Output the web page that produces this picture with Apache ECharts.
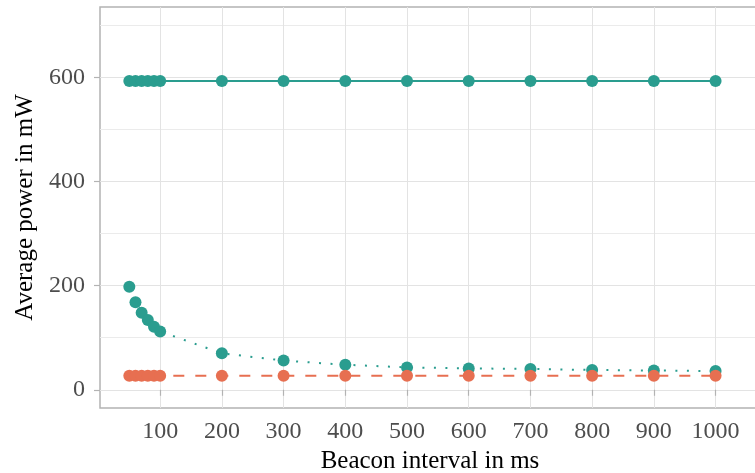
<!DOCTYPE html>
<html>
<head>
<meta charset="utf-8">
<script src="https://cdn.jsdelivr.net/npm/echarts@6/dist/echarts.min.js"></script>
<style>html,body{margin:0;padding:0;background:#fff;}#c{width:755px;height:473px;}</style>
</head>
<body>
<div id="c"></div>
<script>
const beaconIntervals = [50, 60, 70, 80, 90, 100, 200, 300, 400, 500, 600, 700, 800, 900, 1000];
const powerSolid = [593, 593, 593, 593, 593, 593, 593, 593, 593, 593, 593, 593, 593, 593, 593];
const powerDotted = [198, 168, 148, 134, 121, 112, 70, 56, 48, 43, 41, 40, 38, 37, 36];
const powerDashed = [27, 27, 27, 27, 27, 27, 27, 27, 27, 27, 27, 27, 27, 27, 27];
const xTicks = [100, 200, 300, 400, 500, 600, 700, 800, 900, 1000];
const yTicks = [0, 200, 400, 600];
const yMinorTicks = [100, 300, 500, 700];

const TEAL = '#2a9d8f', ORANGE = '#e76f51';
const FONT = '"Liberation Serif", "DejaVu Serif", serif';
const pairs = (ys) => beaconIntervals.map((x, i) => [x, ys[i]]);

const chart = echarts.init(document.getElementById('c'), null, {renderer: 'canvas'});
chart.setOption({
  backgroundColor: '#fff',
  animation: false,
  grid: {left: 100, right: -5, top: 7, bottom: 65, outerBoundsMode: 'none', containLabel: false,
         show: true, borderColor: '#b3b3b3', borderWidth: 1.5, backgroundColor: '#fff'},
  xAxis: {
    type: 'value', min: 2.5, max: 1072,
    name: 'Beacon interval in ms', nameLocation: 'middle', nameGap: 36,
    nameTextStyle: {fontFamily: FONT, fontSize: 25, color: '#000'},
    axisLine: {show: false},
    axisTick: {show: true, length: 6, customValues: xTicks, lineStyle: {color: '#b3b3b3', width: 1.2}},
    axisLabel: {customValues: xTicks, formatter: (v) => String(v), fontFamily: FONT, fontSize: 24, color: '#4d4d4d', margin: 12},
    splitLine: {show: true, lineStyle: {color: '#e3e3e3', width: 1}}
  },
  yAxis: [{
    type: 'value', min: -35, max: 735,
    name: 'Average power in mW', nameLocation: 'middle', nameGap: 62,
    nameTextStyle: {fontFamily: FONT, fontSize: 25, color: '#000'},
    axisLine: {show: false},
    axisTick: {show: true, length: 6, customValues: yTicks, lineStyle: {color: '#b3b3b3', width: 1.2}},
    axisLabel: {customValues: yTicks, formatter: (v) => String(v), fontFamily: FONT, fontSize: 24, color: '#4d4d4d', margin: 15},
    splitLine: {show: true, lineStyle: {color: '#e3e3e3', width: 1}}
  }, {
    type: 'value', min: -35, max: 735, position: 'left',
    axisLine: {show: false},
    axisTick: {show: false, customValues: yMinorTicks},
    axisLabel: {show: false, customValues: yMinorTicks},
    splitLine: {show: true, lineStyle: {color: '#ebebeb', width: 1}}
  }],
  series: [
    {type: 'line', data: pairs(powerSolid), yAxisIndex: 0, symbol: 'circle', symbolSize: 12,
     itemStyle: {color: TEAL}, lineStyle: {color: TEAL, width: 2, type: 'solid'}},
    {type: 'line', data: pairs(powerDotted), yAxisIndex: 0, symbol: 'circle', symbolSize: 12,
     itemStyle: {color: TEAL}, lineStyle: {color: TEAL, width: 2, type: [2, 9.5]}},
    {type: 'line', data: pairs(powerDashed), yAxisIndex: 0, symbol: 'circle', symbolSize: 12,
     itemStyle: {color: ORANGE}, lineStyle: {color: ORANGE, width: 2, type: [11, 11]}}
  ]
});
</script>
</body>
</html>
